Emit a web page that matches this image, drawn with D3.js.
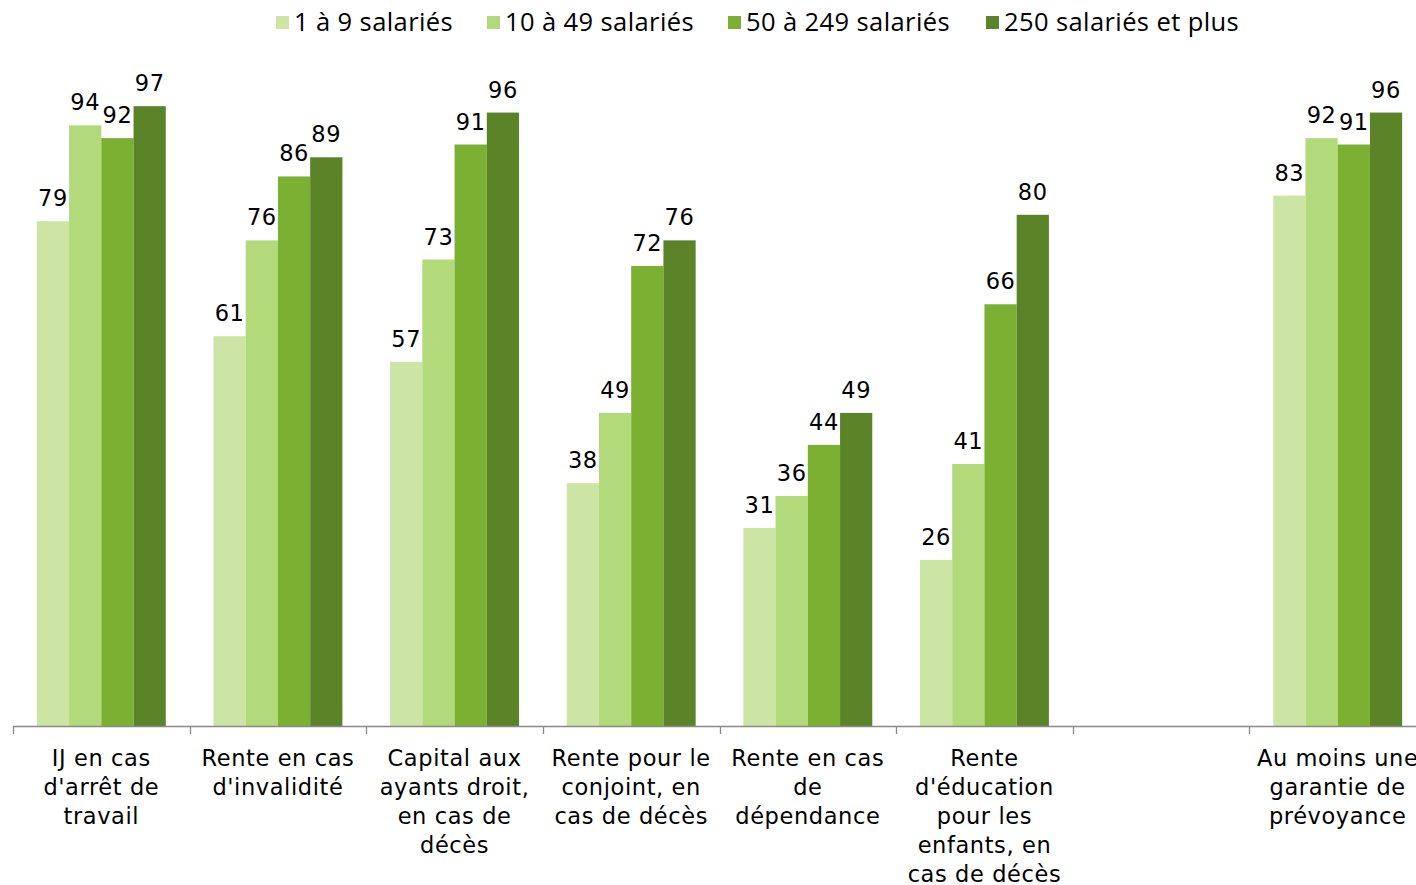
<!DOCTYPE html>
<html><head><meta charset="utf-8">
<script src="https://cdn.jsdelivr.net/npm/d3@7"></script>
<style>body{margin:0;background:#fff;overflow:hidden}svg{display:block}</style>
</head><body>
<svg id="chart" width="1416" height="885"></svg>
<script>
const categories = [
  "IJ en cas|d'arrêt de|travail",
  "Rente en cas|d'invalidité",
  "Capital aux|ayants droit,|en cas de|décès",
  "Rente pour le|conjoint, en|cas de décès",
  "Rente en cas|de|dépendance",
  "Rente|d'éducation|pour les|enfants, en|cas de décès",
  "",
  "Au moins une|garantie de|prévoyance"
];
const seriesNames = ["1 à 9 salariés", "10 à 49 salariés", "50 à 249 salariés", "250 salariés et plus"];
const s1 = [79, 61, 57, 38, 31, 26, null, 83];
const s2 = [94, 76, 73, 49, 36, 41, null, 92];
const s3 = [92, 86, 91, 72, 44, 66, null, 91];
const s4 = [97, 89, 96, 76, 49, 80, null, 96];
const seriesValues = [s1, s2, s3, s4];
const colors = ["#cce5a5", "#b2d97a", "#7bb032", "#5b8428"];

const svg = d3.select("#chart");
const x0 = d3.scaleBand().domain(categories.map((c,i)=>i)).range([13, 1426]).paddingInner(0).paddingOuter(0);
const groupPad = 0.27;
const x1 = d3.scaleBand().domain(d3.range(4)).range([x0.bandwidth()*groupPad/2, x0.bandwidth()*(1-groupPad/2)]);
const y = d3.scaleLinear().domain([0, 100]).range([726, 87]);

const labelFont = "'DejaVu Sans', Verdana, sans-serif";

// bars
seriesValues.forEach((vals, si) => {
  const g = svg.append("g");
  const data = vals.map((v, i) => ({v, i})).filter(d => d.v != null);
  g.selectAll("rect").data(data).join("rect")
    .attr("x", d => x0(d.i) + x1(si))
    .attr("y", d => y(d.v))
    .attr("width", x1.bandwidth())
    .attr("height", d => y(0) - y(d.v))
    .attr("fill", colors[si]);
  g.selectAll("text").data(data).join("text")
    .attr("x", d => x0(d.i) + x1(si) + x1.bandwidth()/2)
    .attr("y", d => y(d.v) - 15)
    .attr("text-anchor", "middle")
    .attr("font-family", labelFont)
    .attr("font-size", 22.5)
    .attr("letter-spacing", 0.6)
    .attr("fill", "#000")
    .text(d => d.v);
});

// axis
const axis = svg.append("g");
axis.append("line").attr("x1", 13).attr("x2", 1426).attr("y1", 726.5).attr("y2", 726.5)
  .attr("stroke", "#898989").attr("stroke-width", 1.3);
categories.forEach((c, i) => {
  const xt = Math.round(x0(i)) + 0.5;
  axis.append("line").attr("x1", xt).attr("x2", xt).attr("y1", 726).attr("y2", 734)
    .attr("stroke", "#898989").attr("stroke-width", 1.3);
});
const catG = svg.append("g");
categories.forEach((c, i) => {
  if (!c) return;
  const t = catG.append("text")
    .attr("x", x0(i) + x0.bandwidth()/2)
    .attr("y", 766)
    .attr("text-anchor", "middle")
    .attr("font-family", labelFont)
    .attr("font-size", 22.5)
    .attr("letter-spacing", 0.6)
    .attr("fill", "#000");
  c.split("|").forEach((line, li) => {
    t.append("tspan").attr("x", x0(i) + x0.bandwidth()/2).attr("dy", li === 0 ? 0 : 29).text(line);
  });
});

// legend
const legendX = [276, 487, 728, 986];
const leg = svg.append("g");
seriesNames.forEach((n, i) => {
  leg.append("rect").attr("x", legendX[i]).attr("y", 16).attr("width", 13).attr("height", 13).attr("fill", colors[i]);
  leg.append("text").attr("x", legendX[i] + 18).attr("y", 31)
    .attr("font-family", "'Open Sans', 'Liberation Sans', sans-serif")
    .attr("font-size", 25.5).attr("letter-spacing", 0.4).attr("fill", "#000").text(n);
});
</script>
</body></html>
